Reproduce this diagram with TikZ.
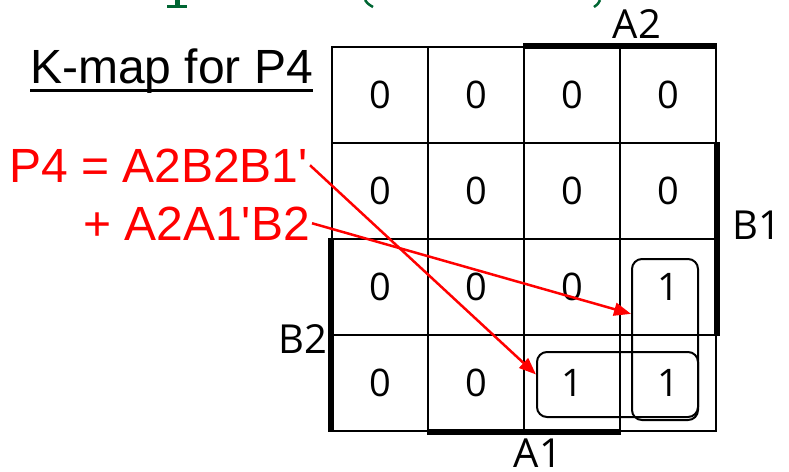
\documentclass[tikz,border=0pt]{standalone}
\usepackage{fontspec}
\setmainfont{Liberation Sans}
\newfontfamily\mapfont{Open Sans}
\usetikzlibrary{arrows.meta}
\definecolor{titlegreen}{RGB}{0,102,51}

\begin{document}
\begin{tikzpicture}[x=1pt, y=-1pt, >={Triangle[length=17pt,width=13pt]},
  cell/.style={draw, line width=2pt, minimum width=96pt, minimum height=96pt, inner sep=0pt, font=\mapfont\fontsize{38}{38}\selectfont},
  lbl/.style={inner sep=0pt, font=\mapfont\fontsize{40}{40}\selectfont},
  bar/.style={line width=6pt},
  grp/.style={draw, line width=2pt, rounded corners=10pt, inner sep=0pt},
  eq/.style={inner sep=2pt, text=red, font=\fontsize{48}{48}\selectfont}]
\useasboundingbox (0,0) rectangle (789,471);
\fill[titlegreen] (175,0) rectangle (180,6);
\fill[titlegreen] (167,5) rectangle (187,7.5);
\draw[titlegreen, line width=2.5pt] (365,0) .. controls (368,4) .. (373,7);
\draw[titlegreen, line width=2.5pt] (600,0) .. controls (598,4) .. (594,7);
\node[anchor=base west, inner sep=0pt, font=\fontsize{48}{48}\selectfont] (title) at (30,83) {K-map for P4};
\draw[line width=3pt] ([yshift=-7pt]title.base west) -- ([yshift=-7pt]title.base east);
\foreach \v [count=\i from 0] in {0,0,0,0, 0,0,0,0, 0,0,0,1, 0,0,1,1} {
  \pgfmathtruncatemacro\mrow{int(\i/4)+1}
  \pgfmathtruncatemacro\mcol{mod(\i,4)+1}
  \node[cell] (c\mrow\mcol) at ({332+96*(\mcol-0.5)}, {47+96*(\mrow-0.5)}) {\v};
}
\draw[bar] (c13.north west) -- (c14.north east);
\draw[bar] (c24.north east) -- (c34.south east);
\draw[bar] (c31.north west) -- (c41.south west);
\draw[bar] (c42.south west) -- (c43.south east);
\node[lbl] (a2) at (637,24) {A2};
\node[lbl] (b1) at (757,225) {B1};
\node[lbl] (b2) at (303,339) {B2};
\node[lbl] (a1) at (538,453) {A1};
\node[grp, minimum width=66pt, minimum height=161pt] (colGrp) at (665,339.5) {};
\node[grp, minimum width=161pt, minimum height=65pt] (rowGrp) at (617.5,384.5) {};
\node[eq, anchor=base east] (eq1) at (310,182) {P4 = A2B2B1\textquotesingle};
\node[eq, anchor=base east] (eq2) at (312,240) {+ A2A1\textquotesingle B2};
\draw[->, red, line width=2.5pt] (eq1.east) -- (rowGrp.173);
\draw[->, red, line width=2.5pt] (eq2.east) -- (colGrp.143);
\end{tikzpicture}
\end{document}
